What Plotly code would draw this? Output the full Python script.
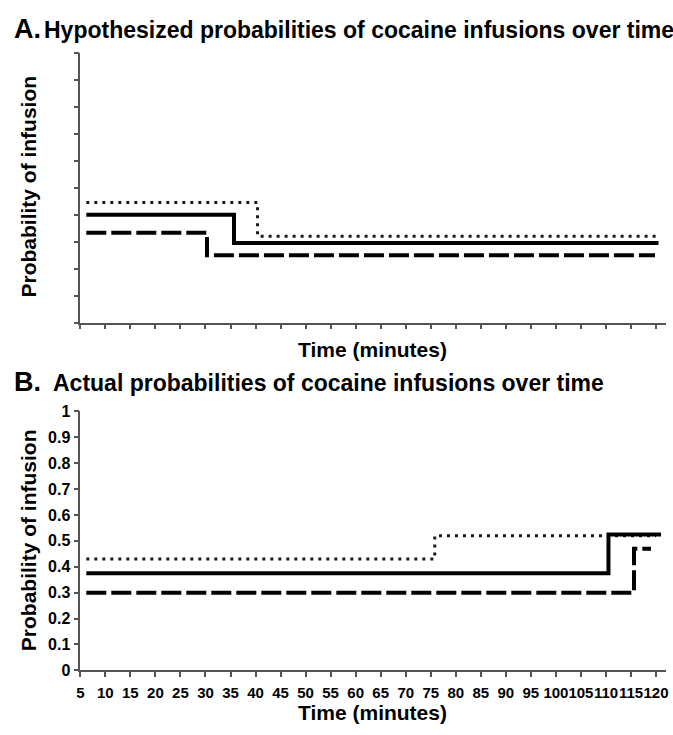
import plotly.graph_objects as go

W, H = 673, 735

# ---- Data ----
# Panel A: hypothesized probabilities (step functions)
hyp_dotted_t = [6.2, 40.4, 120.0]
hyp_dotted_p = [0.445, 0.32, 0.32]
hyp_solid_t = [6.2, 35.7, 120.5]
hyp_solid_p = [0.40, 0.295, 0.295]
hyp_dashed_t = [6.2, 30.3, 119.8]
hyp_dashed_p = [0.333, 0.25, 0.25]

# Panel B: actual probabilities (step functions)
act_dotted_t = [6.2, 75.8, 120.0]
act_dotted_p = [0.43, 0.52, 0.52]
act_solid_t = [6.2, 110.5, 121.0]
act_solid_p = [0.375, 0.525, 0.525]
act_dashed_t = [6.2, 115.6, 119.0]
act_dashed_p = [0.30, 0.47, 0.47]

x_ticks = list(range(5, 121, 5))
y_ticks = [0, 0.1, 0.2, 0.3, 0.4, 0.5, 0.6, 0.7, 0.8, 0.9, 1]
y_tick_text = ["0", "0.1", "0.2", "0.3", "0.4", "0.5", "0.6", "0.7", "0.8", "0.9", "1"]

FONT = "Liberation Sans, Arial, Helvetica, sans-serif"

def px(x):
    return x / W

def py(y):
    return 1 - y / H

styles = {
    "dotted": dict(color="#1a1a1a", width=3, dash="3px,5px"),
    "solid": dict(color="black", width=4, dash="solid"),
    "dashed": dict(color="black", width=4, dash="20px,5px"),
}

fig = go.Figure()

for t, p, s in [(hyp_dotted_t, hyp_dotted_p, "dotted"),
                (hyp_solid_t, hyp_solid_p, "solid"),
                (hyp_dashed_t, hyp_dashed_p, "dashed")]:
    fig.add_trace(go.Scatter(x=t, y=p, mode="lines", line=dict(shape="hv", **styles[s]),
                             xaxis="x", yaxis="y", showlegend=False, hoverinfo="skip"))

for t, p, s in [(act_dotted_t, act_dotted_p, "dotted"),
                (act_solid_t, act_solid_p, "solid"),
                (act_dashed_t, act_dashed_p, "dashed")]:
    fig.add_trace(go.Scatter(x=t, y=p, mode="lines", line=dict(shape="hv", **styles[s]),
                             xaxis="x2", yaxis="y2", showlegend=False, hoverinfo="skip"))

axis_common = dict(showgrid=False, zeroline=False, showline=True, linecolor="#555",
                   linewidth=1.5, ticks="outside", ticklen=5, tickcolor="#555", tickwidth=1.5)

x_dom = [px(77), px(668)]

fig.update_layout(
    width=W, height=H,
    margin=dict(l=0, r=0, t=0, b=0),
    paper_bgcolor="white", plot_bgcolor="white",
    font=dict(family=FONT, color="black"),
    xaxis=dict(domain=x_dom, range=[5, 122], tickvals=x_ticks, showticklabels=False,
               anchor="y", **axis_common),
    yaxis=dict(domain=[py(322), py(46)], range=[0, 1], tickvals=y_ticks, showticklabels=False,
               anchor="x", **axis_common),
    xaxis2=dict(domain=x_dom, range=[5, 122], tickvals=x_ticks, ticktext=[str(v) for v in x_ticks],
                tickangle=0, tickfont=dict(size=15, family=FONT, weight="bold"), ticklabelstandoff=3,
                anchor="y2", **axis_common),
    yaxis2=dict(domain=[py(678), py(413)], range=[0, 1], tickvals=y_ticks, ticktext=y_tick_text,
                tickfont=dict(size=16, family=FONT, weight="bold"), anchor="x2", **axis_common),
)

def ann(text, x, y, size, xanchor="left", angle=0):
    fig.add_annotation(text=f"<b>{text}</b>", x=px(x), y=py(y), xref="paper", yref="paper",
                       xanchor=xanchor, yanchor="middle", showarrow=False, textangle=angle,
                       font=dict(size=size, family=FONT, color="black"))

ann("A.", 8, 22, 27)
ann("Hypothesized probabilities of cocaine infusions over time", 38, 23, 23)
ann("B.", 8, 383, 27)
ann("Actual probabilities of cocaine infusions over time", 47, 384, 23)
ann("Probability of infusion", 25, 183, 21, xanchor="center", angle=-90)
ann("Probability of infusion", 25, 545, 21, xanchor="center", angle=-90)
ann("Time (minutes)", 372, 350, 21, xanchor="center")
ann("Time (minutes)", 372, 721, 21, xanchor="center")

fig.write_html("out.html", config={"displayModeBar": False},
               post_script="document.body.style.margin='0';document.body.style.overflow='hidden';")
